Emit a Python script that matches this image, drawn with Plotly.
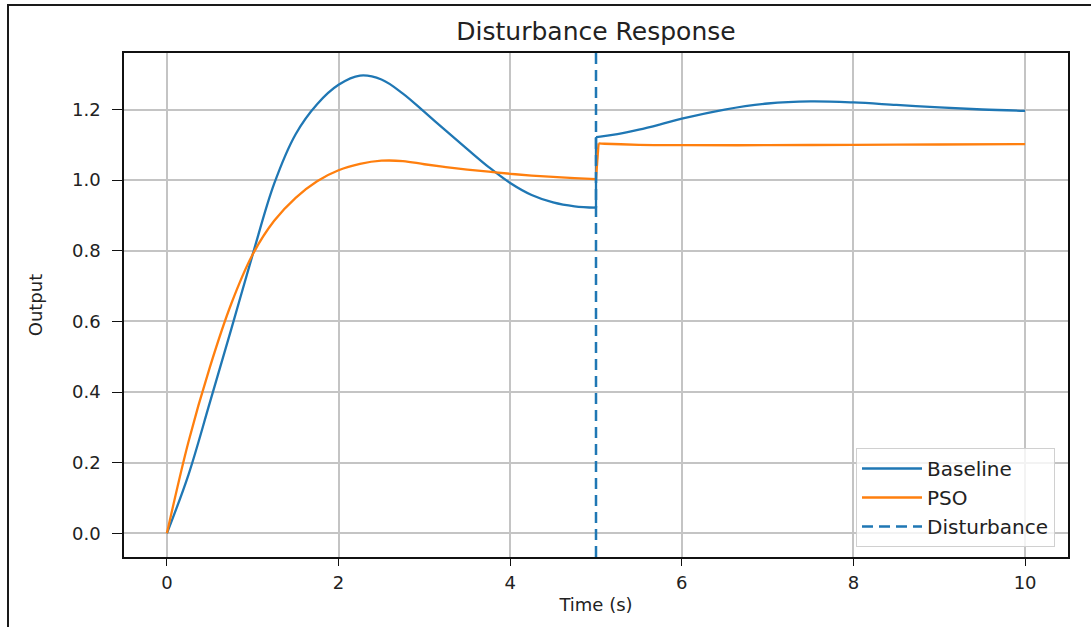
import plotly.graph_objects as go

# ---- data ----
t_base = [0.0, 0.25, 0.5, 0.75, 1.0, 1.25, 1.5, 1.75, 2.0, 2.25, 2.5, 2.75, 3.0, 3.25, 3.5,
          3.75, 4.0, 4.25, 4.5, 4.75, 5.0, 5.0, 5.05, 5.25, 5.5, 5.75, 6.0, 6.5, 7.0,
          7.5, 8.0, 8.5, 9.0, 9.5, 10.0]
y_base = [0.0, 0.165, 0.37, 0.578, 0.79, 0.99, 1.13, 1.215, 1.27, 1.296, 1.285, 1.245, 1.193,
          1.14, 1.088, 1.037, 0.992, 0.958, 0.937, 0.926, 0.922, 1.122, 1.123, 1.13,
          1.143, 1.158, 1.174, 1.20, 1.217, 1.223, 1.220, 1.213, 1.206, 1.200, 1.196]

t_pso = [0.0, 0.25, 0.5, 0.75, 1.0, 1.25, 1.5, 1.75, 2.0, 2.25, 2.5, 2.75, 3.0, 3.25, 3.5,
         3.75, 4.0, 4.25, 4.5, 4.75, 5.0, 5.03, 5.1, 5.5, 6.0, 7.0, 8.0, 9.0, 10.0]
y_pso = [0.0, 0.258, 0.47, 0.65, 0.79, 0.885, 0.95, 0.997, 1.028, 1.046, 1.055, 1.054, 1.045,
         1.037, 1.03, 1.024, 1.018, 1.013, 1.009, 1.006, 1.003, 1.104, 1.103, 1.10,
         1.099, 1.099, 1.10, 1.101, 1.102]

disturbance_t = 5.0
x_range = [-0.5, 10.5]
y_range = [-0.067, 1.36]
x_ticks = [0, 2, 4, 6, 8, 10]
y_ticks = [0.0, 0.2, 0.4, 0.6, 0.8, 1.0, 1.2]
y_tick_labels = ["0.0", "0.2", "0.4", "0.6", "0.8", "1.0", "1.2"]

BLUE = "#1f77b4"
ORANGE = "#ff7f0e"
FONT = "DejaVu Sans"
TXT = "#222222"

W, H = 1091, 627
L, R, T, B = 124, 23, 53, 70
pw, ph = W - L - R, H - T - B

fig = go.Figure()


def add_series(ts, ys, name, color):
    # split at the disturbance so the smoothing does not overshoot at the step
    k = max(i for i, t in enumerate(ts) if t <= disturbance_t and
            (i + 1 < len(ts) and ts[i + 1] >= disturbance_t and ys[i + 1] - ys[i] > 0.05))
    segs = [(ts[:k + 1], ys[:k + 1]), (ts[k:k + 2], ys[k:k + 2]), (ts[k + 1:], ys[k + 1:])]
    for j, (sx, sy) in enumerate(segs):
        fig.add_trace(go.Scatter(x=sx, y=sy, mode="lines", name=name, legendgroup=name,
                                 showlegend=(j == 0),
                                 line=dict(color=color, width=2.3,
                                           shape="spline" if j != 1 else "linear",
                                           smoothing=1.0)))


add_series(t_base, y_base, "Baseline", BLUE)
add_series(t_pso, y_pso, "PSO", ORANGE)
fig.add_trace(go.Scatter(x=[disturbance_t, disturbance_t], y=y_range, mode="lines",
                         name="Disturbance",
                         line=dict(color=BLUE, width=2.5, dash="11px,6px")))

# outer image frame (left and top edges visible)
xl = (8 - L) / pw
xr = (W + 5 - L) / pw
yt = 1 + (T - 5) / ph
yb = -(H + 5 - T - ph) / ph
fig.add_shape(type="path", xref="paper", yref="paper",
              path=f"M {xl},{yb} L {xl},{yt} L {xr},{yt}",
              line=dict(color="#1a1a1a", width=2))

axis_common = dict(showline=True, mirror=True, linecolor="#111111", linewidth=1.5,
                   showgrid=True, gridcolor="#c4c4c4", gridwidth=1.6,
                   zeroline=False, ticks="outside", tickcolor="#111111", tickwidth=1.3,
                   tickfont=dict(family=FONT, size=18, color=TXT), automargin=False)

fig.update_xaxes(range=x_range, tickvals=x_ticks, ticktext=[str(v) for v in x_ticks],
                 ticklen=7, ticklabelstandoff=2,
                 title=dict(text="Time (s)", standoff=6,
                            font=dict(family=FONT, size=18, color=TXT)),
                 **axis_common)
fig.update_yaxes(range=y_range, tickvals=y_ticks, ticktext=y_tick_labels,
                 ticklen=10, ticklabelstandoff=8,
                 title=dict(text="Output", standoff=25,
                            font=dict(family=FONT, size=18, color=TXT)),
                 **axis_common)

fig.update_layout(
    width=W, height=H, autosize=False,
    margin=dict(l=L, r=R, t=T, b=B),
    paper_bgcolor="white", plot_bgcolor="white",
    title=dict(text="Disturbance Response", x=(L + pw / 2) / W, xanchor="center",
               y=1 - 31 / H, yanchor="middle", yref="container",
               font=dict(family=FONT, size=25, color=TXT)),
    legend=dict(x=(1055 - L) / pw, xanchor="right", y=(H - B - 547) / ph, yanchor="bottom",
                bgcolor="rgba(255,255,255,0.8)", bordercolor="#d0d0d0", borderwidth=1,
                font=dict(family=FONT, size=20, color=TXT), itemwidth=60,
                tracegroupgap=0),
    showlegend=True,
)

fig.write_html("out.html", config={"displayModeBar": False},
               post_script="document.body.style.margin='0px';")
